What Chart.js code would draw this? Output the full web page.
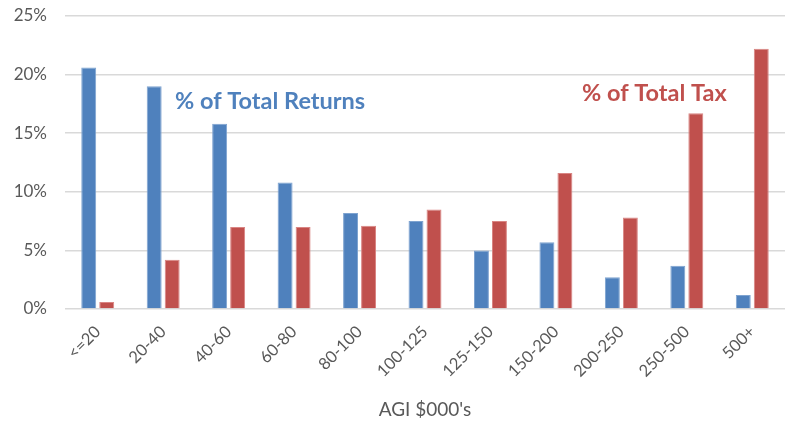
<!DOCTYPE html>
<html>
<head>
<meta charset="utf-8">
<script src="https://cdn.jsdelivr.net/npm/chart.js@4/dist/chart.umd.min.js"></script>
<style>
  html, body { margin: 0; padding: 0; background: #fff; }
  #wrap { width: 788px; height: 422px; position: relative; }
</style>
</head>
<body>
<div id="wrap"><canvas id="chart"></canvas></div>
<script>
const categories = ['<=20', '20-40', '40-60', '60-80', '80-100', '100-125', '125-150', '150-200', '200-250', '250-500', '500+'];
const pctReturns = [20.6, 19.0, 15.8, 10.8, 8.2, 7.5, 5.0, 5.7, 2.7, 3.7, 1.2];
const pctTax = [0.6, 4.2, 7.0, 7.0, 7.1, 8.5, 7.5, 11.6, 7.8, 16.7, 22.2];
const yTicks = [0, 5, 10, 15, 20, 25];

const fontfam = 'Lato, "Open Sans", sans-serif';
const blue = '#4F81BD';
const red = '#C0504D';

// series names drawn inside the plot, Excel style
const seriesLabels = {
    id: 'seriesLabels',
    afterDatasetsDraw(chart) {
        const ctx = chart.ctx;
        ctx.save();
        ctx.font = 'bold 23.5px ' + fontfam;
        ctx.textBaseline = 'middle';
        ctx.textAlign = 'left';
        ctx.fillStyle = blue;
        ctx.fillText('% of Total Returns', 175, 101);
        ctx.fillStyle = red;
        ctx.fillText('% of Total Tax', 582, 93);
        ctx.restore();
    }
};

new Chart(document.getElementById('chart'), {
    type: 'bar',
    data: {
        labels: categories,
        datasets: [
            { label: '% of Total Returns', data: pctReturns, backgroundColor: blue, borderColor: '#7ea3d0', borderWidth: {top: 1, left: 1, right: 1, bottom: 0} },
            { label: '% of Total Tax', data: pctTax, backgroundColor: red, borderColor: '#d98583', borderWidth: {top: 1, left: 1, right: 1, bottom: 0} }
        ]
    },
    options: {
        responsive: true,
        maintainAspectRatio: false,
        animation: false,
        devicePixelRatio: 1,
        layout: { padding: { top: 16, right: 3, left: 0, bottom: 0 } },
        datasets: { bar: { categoryPercentage: 0.55, barPercentage: 0.83 } },
        plugins: {
            legend: { display: false },
            tooltip: { enabled: false }
        },
        scales: {
            x: {
                grid: { display: false },
                border: { display: false },
                ticks: {
                    minRotation: 45, maxRotation: 45,
                    color: '#595959',
                    font: { family: fontfam, size: 16.5 },
                    padding: 5
                },
                title: {
                    display: true,
                    text: "AGI $000's",
                    color: '#595959',
                    font: { family: fontfam, size: 19 },
                    padding: { top: 8, bottom: 1 }
                },
                afterFit: (s) => { s.height = 113; }
            },
            y: {
                min: 0, max: 25,
                afterBuildTicks: (s) => { s.ticks = yTicks.map(v => ({ value: v })); },
                grid: { color: '#d9d9d9', lineWidth: 1.5, drawTicks: false },
                border: { display: false },
                ticks: {
                    color: '#595959',
                    font: { family: fontfam, size: 17 },
                    padding: 18,
                    callback: (v) => v + '%'
                },
                afterFit: (s) => { s.width = 65; s.paddingTop = 0; s.paddingBottom = 0; }
            }
        }
    },
    plugins: [seriesLabels]
});
</script>
</body>
</html>
